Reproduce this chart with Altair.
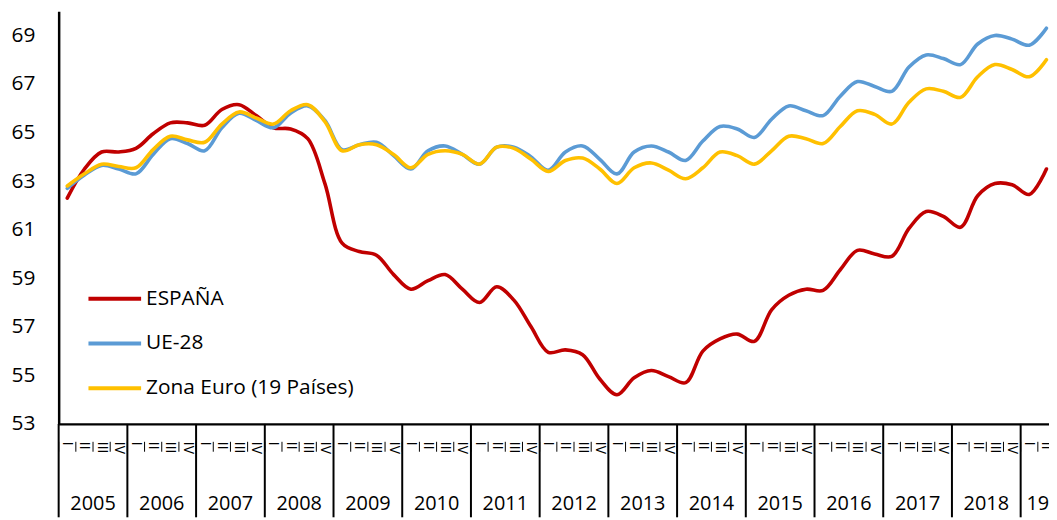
import altair as alt
import pandas as pd

# ---- data (quarterly, 2005-I to 2019-II) ----
series_names = ["ESPAÑA", "UE-28", "Zona Euro (19 Países)"]
series_colors = ["#C00000", "#5B9BD5", "#FFC000"]
quarter_labels = ["I", "II", "III", "IV"]
year_labels = ["2005", "2006", "2007", "2008", "2009", "2010", "2011", "2012",
               "2013", "2014", "2015", "2016", "2017", "2018", "19"]
y_ticks = [53, 55, 57, 59, 61, 63, 65, 67, 69]

espana = [62.3, 63.5, 64.2, 64.2, 64.35, 64.95, 65.4, 65.4, 65.3, 65.95,
          66.15, 65.7, 65.2, 65.15, 64.75, 62.9, 60.45, 60.1, 59.95, 59.15,
          58.55, 58.9, 59.15, 58.55, 58.0, 58.65, 58.1, 57.0, 55.95, 56.05,
          55.85, 54.85, 54.2, 54.9, 55.2, 54.95, 54.7, 56.0, 56.5, 56.7,
          56.4, 57.7, 58.3, 58.55, 58.5, 59.35, 60.15, 60.0, 59.9, 61.05,
          61.75, 61.55, 61.1, 62.4, 62.9, 62.85, 62.45, 63.5]
ue28 = [62.7, 63.25, 63.65, 63.5, 63.3, 64.1, 64.75, 64.55, 64.25, 65.2,
        65.8, 65.5, 65.2, 65.8, 66.1, 65.5, 64.3, 64.5, 64.6, 64.05,
        63.5, 64.25, 64.45, 64.1, 63.7, 64.4, 64.4, 64.0, 63.45, 64.2,
        64.45, 63.9, 63.3, 64.2, 64.45, 64.2, 63.85, 64.65, 65.25, 65.15,
        64.8, 65.55, 66.1, 65.9, 65.7, 66.5, 67.1, 66.9, 66.7, 67.7,
        68.2, 68.05, 67.8, 68.65, 69.0, 68.85, 68.6, 69.3]
zona_euro = [62.8, 63.3, 63.7, 63.6, 63.55, 64.3, 64.85, 64.7, 64.6, 65.35,
             65.85, 65.6, 65.35, 65.9, 66.15, 65.45, 64.25, 64.5, 64.5, 64.1,
             63.55, 64.1, 64.25, 64.1, 63.7, 64.4, 64.35, 63.9, 63.4, 63.85,
             63.95, 63.5, 62.9, 63.55, 63.75, 63.45, 63.1, 63.55, 64.2, 64.05,
             63.7, 64.25, 64.85, 64.75, 64.55, 65.25, 65.9, 65.75, 65.35, 66.25,
             66.8, 66.7, 66.45, 67.3, 67.8, 67.6, 67.3, 68.0]

n = len(espana)

rows = []
for name, vals in zip(series_names, [espana, ue28, zona_euro]):
    for i, v in enumerate(vals):
        rows.append({"q": i + 0.5, "serie": name, "valor": v})
df = pd.DataFrame(rows)

qdf = pd.DataFrame({"q": [i + 0.5 for i in range(n)],
                    "lab": [quarter_labels[i % 4] for i in range(n)]})
qticks = pd.DataFrame({"q": [float(i) for i in range(n + 1)]})
ydf = pd.DataFrame({
    "q0": [4.0 * k for k in range(len(year_labels))],
    "qc": [(4 * k + min(4 * k + 4, n)) / 2 for k in range(len(year_labels))],
    "lab": year_labels,
})

W = 997
H = 415.5
XMAX = 57.65
BOTTOM = 94

xscale = alt.Scale(domain=[0, XMAX], nice=False, zero=False)
yscale = alt.Scale(domain=[53, 70], nice=False, zero=False)

lines = alt.Chart(df).mark_line(interpolate="catmull-rom", strokeWidth=3.6,
                                strokeCap="round", clip=True).encode(
    x=alt.X("q:Q", scale=xscale,
            axis=alt.Axis(labels=False, ticks=False, grid=False, title=None,
                          domainColor="black", domainWidth=2.2)),
    y=alt.Y("valor:Q", scale=yscale,
            axis=alt.Axis(values=y_ticks, grid=False, ticks=False, title=None,
                          labelFontSize=21, labelFont="Open Sans", labelColor="black",
                          labelPadding=24, domainColor="black", domainWidth=2.5)),
    color=alt.Color("serie:N", sort=series_names,
                    scale=alt.Scale(domain=series_names, range=series_colors),
                    legend=alt.Legend(orient="none", legendX=28, legendY=261,
                                      title=None, symbolType="stroke",
                                      symbolSize=2809, symbolStrokeWidth=4,
                                      labelFontSize=21, labelFont="Open Sans",
                                      labelColor="black", labelOffset=3,
                                      labelLimit=0, rowPadding=6,
                                      direction="vertical")),
)

qtext = alt.Chart(qdf).mark_text(angle=90, align="left", baseline="middle",
                                 fontSize=14, font="Open Sans", color="black").encode(
    x=alt.X("q:Q", scale=xscale),
    y=alt.value(H + 18),
    text="lab:N",
)

qtick = alt.Chart(qticks).transform_filter(alt.datum.q <= XMAX).mark_rule(
    color="black", strokeWidth=1).encode(
    x=alt.X("q:Q", scale=xscale),
    y=alt.value(H + 18),
    y2=alt.value(H + 28),
)

yrules = alt.Chart(ydf).mark_rule(color="black", strokeWidth=2).encode(
    x=alt.X("q0:Q", scale=xscale),
    y=alt.value(H),
    y2=alt.value(H + BOTTOM),
)

ytext = alt.Chart(ydf).mark_text(fontSize=20, font="Open Sans", color="black",
                                 baseline="middle").encode(
    x=alt.X("qc:Q", scale=xscale),
    y=alt.value(H + 81),
    text="lab:N",
)

chart = alt.layer(yrules, qtick, qtext, ytext, lines).properties(
    width=W, height=H,
    autosize=alt.AutoSizeParams(type="none"),
    padding={"left": 51, "top": 1.5, "right": 0, "bottom": BOTTOM},
).configure_view(stroke=None)

chart.save("out.html", embed_options={"renderer": "svg", "actions": False})
